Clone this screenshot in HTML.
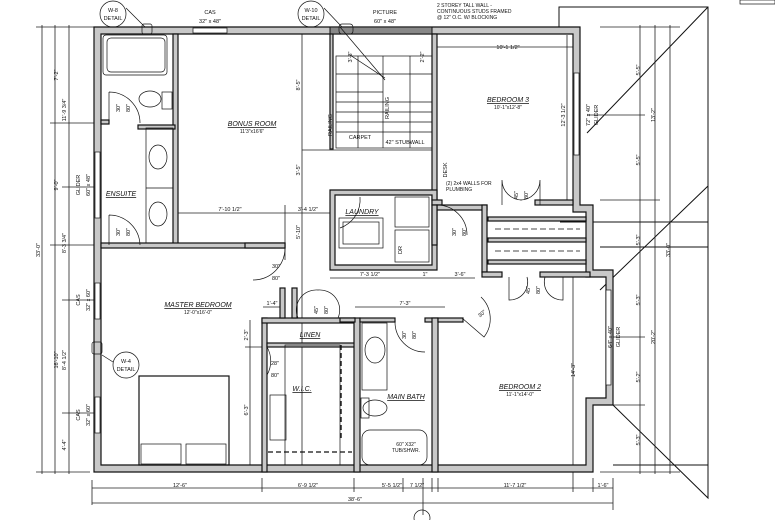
<!DOCTYPE html>
<html><head><meta charset="utf-8"><style>
html,body{margin:0;padding:0;background:#fff;width:775px;height:520px;overflow:hidden}
svg{display:block}
text{font-family:"Liberation Sans",sans-serif;fill:#111}
.w{fill:#c8c8c8;stroke:#111;stroke-width:1.2}
.l{stroke:#111;stroke-width:1;fill:none}
.t{stroke:#111;stroke-width:0.7;fill:none}
.d{stroke:#222;stroke-width:0.8;fill:none}
.lab{font-size:7px;font-style:italic;text-decoration:underline}
.s{font-size:5px}
.dim{font-size:5.5px}
</style></head><body>
<svg width="775" height="520" viewBox="0 0 775 520" xmlns="http://www.w3.org/2000/svg">
<!-- roof outline lines right -->
<path class="l" d="M559 27 V7 H708 V247 M708 7 L587 133 M708 186 L600 290 M560 222 H708 M600 247 H708 M708 247 V498 L613 405 M613 465 H708" />
<rect x="740" y="0" width="35" height="4" class="t"/>
<!-- left dimension lines -->
<g class="d">
<line x1="42" y1="25" x2="42" y2="474"/><line x1="55" y1="25" x2="55" y2="474"/><line x1="69" y1="25" x2="69" y2="474"/>
<line x1="36" y1="27" x2="95" y2="27"/><line x1="36" y1="472" x2="90" y2="472"/>
<line x1="50" y1="123" x2="95" y2="123"/><line x1="50" y1="245" x2="95" y2="245"/>
<line x1="62" y1="187" x2="95" y2="187"/><line x1="62" y1="300" x2="95" y2="300"/><line x1="62" y1="413" x2="95" y2="413"/>
<!-- right dims -->
<line x1="640" y1="25" x2="640" y2="474"/><line x1="655" y1="25" x2="655" y2="474"/><line x1="670" y1="25" x2="670" y2="474"/>
<line x1="600" y1="27" x2="680" y2="27"/><line x1="600" y1="200" x2="660" y2="200"/><line x1="600" y1="472" x2="680" y2="472"/>
<line x1="587" y1="115" x2="645" y2="115"/><line x1="613" y1="337" x2="645" y2="337"/><line x1="613" y1="405" x2="645" y2="405"/>
<!-- bottom dims -->
<line x1="92" y1="480" x2="92" y2="505"/><line x1="92" y1="488" x2="613" y2="488"/><line x1="92" y1="503" x2="613" y2="503"/>
<line x1="262" y1="478" x2="262" y2="492"/><line x1="354" y1="478" x2="354" y2="492"/><line x1="403" y1="478" x2="403" y2="492"/>
<line x1="432" y1="478" x2="432" y2="492"/><line x1="438" y1="478" x2="438" y2="492"/><line x1="573" y1="465" x2="573" y2="492"/>
<line x1="593" y1="478" x2="593" y2="492"/><line x1="613" y1="478" x2="613" y2="510"/>
<line x1="423" y1="478" x2="423" y2="515"/>
<!-- interior dims -->
<line x1="178" y1="213" x2="285" y2="213"/><line x1="285" y1="213" x2="332" y2="213"/><line x1="285" y1="205" x2="285" y2="260"/>
<line x1="302" y1="27" x2="302" y2="472"/>
<line x1="147" y1="49" x2="573" y2="49" style="display:none"/>
<line x1="437" y1="47" x2="573" y2="47"/>
<line x1="567" y1="35" x2="567" y2="205"/>
<line x1="330" y1="278" x2="432" y2="278"/><line x1="432" y1="278" x2="475" y2="278"/>
<line x1="355" y1="307" x2="445" y2="307"/>
<line x1="573" y1="275" x2="573" y2="465"/>
<line x1="250" y1="320" x2="250" y2="472"/><line x1="245" y1="347" x2="262" y2="347"/>
<line x1="263" y1="307" x2="282" y2="307"/>
<line x1="302" y1="150" x2="432" y2="150"/>
</g>
<!-- exterior walls -->
<path class="w" fill-rule="evenodd" d="M94 27 H580 V205 H593 V270 H613 V405 H593 V472 H94 Z M101 34 H573 V212 H586 V277 H606 V398 H586 V465 H101 Z"/>
<!-- hatched top wall picture window -->
<rect x="330" y="27" width="102" height="7" fill="#888" stroke="#111" stroke-width="1"/>
<!-- interior walls -->
<rect class="w" x="173" y="34" width="5" height="213"/>
<rect class="w" x="101" y="243" width="184" height="5"/>
<rect class="w" x="101" y="120" width="8" height="4"/>
<rect class="w" x="138" y="125" width="37" height="4"/>
<rect class="w" x="432" y="34" width="5" height="166"/>
<rect class="w" x="330" y="34" width="3" height="115"/>
<path class="w" fill-rule="evenodd" d="M330 190 H437 V270 H330 Z M335 195 H432 V265 H335 Z"/>
<rect class="w" x="432" y="200" width="10" height="5"/>
<rect class="w" x="437" y="205" width="50" height="5"/>
<rect class="w" x="482" y="205" width="5" height="67"/>
<rect class="w" x="482" y="272" width="20" height="5"/>
<rect class="w" x="540" y="272" width="50" height="5"/>
<rect class="w" x="488" y="217" width="98" height="4"/>
<rect class="w" x="488" y="238" width="98" height="4"/>
<rect class="w" x="488" y="260" width="98" height="4"/>
<rect class="w" x="535" y="200" width="38" height="5"/>
<rect class="w" x="432" y="205" width="5" height="40"/>
<rect class="w" x="262" y="318" width="5" height="154"/>
<rect class="w" x="262" y="318" width="93" height="5"/>
<rect class="w" x="267" y="343" width="88" height="4"/>
<rect class="w" x="354" y="318" width="6" height="154"/>
<rect class="w" x="360" y="318" width="35" height="4"/>
<rect class="w" x="425" y="318" width="12" height="4"/>
<rect class="w" x="432" y="318" width="6" height="154"/>
<rect class="w" x="438" y="318" width="25" height="4"/>
<rect class="w" x="280" y="288" width="5" height="30"/>
<rect class="w" x="292" y="288" width="5" height="30"/>
<rect class="w" x="245" y="243" width="40" height="5"/>
<rect class="w" x="340" y="318" width="15" height="4"/>
<!-- windows -->
<g class="t" fill="#fff">
<rect x="193" y="28" width="34" height="5" fill="#fff"/><rect x="95" y="152" width="5" height="66" fill="#fff"/>
<rect x="95" y="283" width="5" height="36" fill="#fff"/><rect x="95" y="397" width="5" height="36" fill="#fff"/>
<rect x="574" y="73" width="5" height="82" fill="#fff"/><rect x="606" y="290" width="5" height="95" fill="#fff"/>
</g>
<!-- fixtures -->
<g class="t">
<rect x="103" y="35" width="64" height="40" rx="3"/><rect x="107" y="38" width="58" height="34" rx="4"/>
<ellipse cx="150" cy="99" rx="11" ry="8"/><rect x="162" y="92" width="10" height="17"/>
<rect x="146" y="128" width="27" height="115"/><ellipse cx="158" cy="157" rx="9" ry="12"/><ellipse cx="158" cy="214" rx="9" ry="12"/>
<line x1="146" y1="188" x2="173" y2="188"/>
<rect x="139" y="376" width="90" height="89" stroke-width="1.2"/><rect x="141" y="444" width="40" height="20"/><rect x="186" y="444" width="40" height="20"/>
<rect x="362" y="323" width="25" height="67"/><ellipse cx="375" cy="350" rx="10" ry="13"/>
<ellipse cx="375" cy="408" rx="12" ry="8"/><rect x="361" y="398" width="8" height="20"/>
<rect x="362" y="430" width="65" height="35" rx="8"/>
<rect x="339" y="218" width="44" height="30"/><rect x="343" y="222" width="36" height="22"/>
<rect x="395" y="197" width="34" height="30"/><rect x="395" y="230" width="34" height="32"/>
<rect x="285" y="345" width="55" height="120"/><rect x="270" y="395" width="16" height="45"/>
<!-- stairs -->
<rect x="336" y="56" width="96" height="92"/>
<line x1="336" y1="74" x2="432" y2="74"/><line x1="358" y1="56" x2="358" y2="148"/><line x1="383" y1="56" x2="383" y2="148"/><line x1="410" y1="56" x2="410" y2="148"/>
<line x1="336" y1="92" x2="383" y2="92"/><line x1="336" y1="102" x2="383" y2="102"/><line x1="336" y1="112" x2="383" y2="112"/><line x1="336" y1="122" x2="383" y2="122"/><line x1="336" y1="132" x2="383" y2="132"/>
<line x1="383" y1="102" x2="432" y2="102"/><line x1="383" y1="112" x2="432" y2="112"/><line x1="383" y1="122" x2="432" y2="122"/><line x1="383" y1="132" x2="432" y2="132"/>
<line x1="340" y1="27" x2="385" y2="80"/><line x1="350" y1="55" x2="385" y2="78"/>
<!-- closets dashed -->
<line x1="495" y1="229" x2="580" y2="229" stroke-dasharray="6,3"/><line x1="495" y1="251" x2="580" y2="251" stroke-dasharray="6,3"/>
<line x1="341" y1="345" x2="341" y2="440" stroke-dasharray="5,3" stroke-width="1.4"/><line x1="268" y1="452" x2="352" y2="452" stroke-dasharray="5,3" stroke-width="1.2"/>
<!-- door swings -->
<path d="M109 92 V123 M109 92 A31 31 0 0 1 140 123"/>
<path d="M109 215 V245 M109 215 A31 31 0 0 1 140 245"/>
<path d="M285 248 A32 32 0 0 1 253 280"/>
<path d="M267 347 A28 28 0 0 1 267 375"/>
<path d="M298 318 A20 20 0 0 1 318 290 M338 318 A20 20 0 0 0 318 290"/>
<path d="M395 322 A30 30 0 0 0 425 352"/>
<path d="M437 205 A30 30 0 0 1 467 235"/>
<path d="M502 205 V180 A20 20 0 0 0 522 200 M540 205 V180 A20 20 0 0 1 520 200"/>
<path d="M509 277 V300 A18 18 0 0 0 527 277 M563 277 V300 A18 18 0 0 1 545 277"/>
<path d="M462 318 L484 337 A30 30 0 0 0 481 297"/>
<path d="M360 197 A30 30 0 0 1 340 228"/>
</g>
<!-- circles -->
<g class="t"><circle cx="113" cy="14" r="13"/><circle cx="311" cy="14" r="13"/><circle cx="126" cy="365" r="13"/><circle cx="422" cy="518" r="8"/>
<line x1="126" y1="8" x2="145" y2="27"/><line x1="324" y1="8" x2="342" y2="27"/><line x1="102" y1="355" x2="113" y2="362"/>
<rect x="142" y="24" width="10" height="10" rx="2"/><rect x="339" y="24" width="14" height="10" rx="3"/><rect x="92" y="342" width="10" height="12" rx="2"/>
</g>
<!-- labels -->
<g class="dim" text-anchor="middle">
<text x="113" y="12">W-8</text><text x="113" y="20">DETAIL</text>
<text x="311" y="12">W-10</text><text x="311" y="20">DETAIL</text>
<text x="126" y="363">W-4</text><text x="126" y="371">DETAIL</text>
<text x="210" y="14">CAS</text><text x="210" y="23">32" x 48"</text>
<text x="385" y="14">PICTURE</text><text x="385" y="23">60" x 48"</text>
<text x="508" y="49">10'-1 1/2"</text>
<text x="230" y="211">7'-10 1/2"</text><text x="308" y="211">3'-4 1/2"</text>
<text x="370" y="276">7'-3 1/2"</text><text x="425" y="276">1"</text><text x="460" y="276">3'-6"</text>
<text x="405" y="305">7'-3"</text><text x="272" y="305">1'-4"</text>
<text x="180" y="487">12'-6"</text><text x="308" y="487">6'-9 1/2"</text><text x="392" y="487">5'-5 1/2"</text><text x="417" y="487">7 1/2"</text><text x="515" y="487">11'-7 1/2"</text><text x="603" y="487">1'-6"</text>
<text x="355" y="501">38'-6"</text>
<text x="276" y="268">30"</text><text x="276" y="280">80"</text>
<text x="275" y="365">28"</text><text x="275" y="377">80"</text>
<text x="360" y="139">CARPET</text><text x="405" y="144">42" STUBWALL</text>
</g>
<g text-anchor="start" font-size="5">
<text x="437" y="7">2 STOREY TALL WALL -</text><text x="437" y="13">CONTINUOUS STUDS FRAMED</text><text x="437" y="19">@ 12" O.C. W/ BLOCKING</text>
<text x="446" y="185">(2) 2x4 WALLS FOR</text><text x="446" y="191">PLUMBING</text>
</g>
<g class="lab" text-anchor="middle">
<text x="252" y="126">BONUS ROOM</text>
<text x="508" y="102">BEDROOM 3</text>
<text x="121" y="196">ENSUITE</text>
<text x="362" y="214">LAUNDRY</text>
<text x="198" y="307">MASTER BEDROOM</text>
<text x="310" y="337">LINEN</text>
<text x="302" y="391">W.I.C.</text>
<text x="406" y="399">MAIN BATH</text>
<text x="520" y="389">BEDROOM 2</text>
</g>
<g class="s" text-anchor="middle">
<text x="252" y="133">11'3"x16'6"</text><text x="508" y="109">10'-1"x12'-8"</text>
<text x="198" y="314">12'-0"x16'-0"</text><text x="520" y="396">11'-1"x14'-0"</text>
<text x="406" y="446">60" X32"</text><text x="406" y="452">TUB/SHWR.</text>
</g>
<!-- rotated dims -->
<g class="dim" text-anchor="middle">
<text transform="translate(58,75) rotate(-90)">7'-2"</text>
<text transform="translate(66,110) rotate(-90)">11'-9 3/4"</text>
<text transform="translate(58,185) rotate(-90)">9'-0"</text>
<text transform="translate(66,243) rotate(-90)">8'-3 3/4"</text>
<text transform="translate(40,250) rotate(-90)">33'-0"</text>
<text transform="translate(58,360) rotate(-90)">16'-10"</text>
<text transform="translate(66,360) rotate(-90)">8'-4 1/2"</text>
<text transform="translate(66,445) rotate(-90)">4'-4"</text>
<text transform="translate(80,185) rotate(-90)">GLIDER</text><text transform="translate(90,185) rotate(-90)">60" x 48"</text>
<text transform="translate(80,300) rotate(-90)">CAS</text><text transform="translate(90,300) rotate(-90)">32" x 60"</text>
<text transform="translate(80,415) rotate(-90)">CAS</text><text transform="translate(90,415) rotate(-90)">32" x 60"</text>
<text transform="translate(598,115) rotate(-90)">GLIDER</text><text transform="translate(590,115) rotate(-90)">72" x 40"</text>
<text transform="translate(565,115) rotate(-90)">12'-3 1/2"</text>
<text transform="translate(620,337) rotate(-90)">GLIDER</text><text transform="translate(612,337) rotate(-90)">64" x 40"</text>
<text transform="translate(575,370) rotate(-90)">14'-3"</text>
<text transform="translate(640,70) rotate(-90)">5'-5"</text><text transform="translate(655,115) rotate(-90)">13'-2"</text>
<text transform="translate(640,160) rotate(-90)">5'-5"</text><text transform="translate(640,240) rotate(-90)">5'-3"</text>
<text transform="translate(670,250) rotate(-90)">33'-0"</text><text transform="translate(655,337) rotate(-90)">20'-2"</text>
<text transform="translate(640,300) rotate(-90)">5'-3"</text><text transform="translate(640,377) rotate(-90)">5'-2"</text><text transform="translate(640,440) rotate(-90)">5'-3"</text>
<text transform="translate(300,85) rotate(-90)">8'-5"</text><text transform="translate(300,170) rotate(-90)">3'-5"</text><text transform="translate(300,232) rotate(-90)">5'-10"</text>
<text transform="translate(248,335) rotate(-90)">2'-3"</text><text transform="translate(248,410) rotate(-90)">6'-3"</text>
<text transform="translate(120,108) rotate(-90)">30"</text><text transform="translate(130,108) rotate(-90)">80"</text>
<text transform="translate(120,232) rotate(-90)">30"</text><text transform="translate(130,232) rotate(-90)">80"</text>
<text transform="translate(456,232) rotate(-90)">30"</text><text transform="translate(466,232) rotate(-90)">80"</text>
<text transform="translate(406,335) rotate(-90)">30"</text><text transform="translate(416,335) rotate(-90)">80"</text>
<text transform="translate(518,195) rotate(-90)">45"</text><text transform="translate(528,195) rotate(-90)">80"</text>
<text transform="translate(530,290) rotate(-90)">45"</text><text transform="translate(540,290) rotate(-90)">80"</text>
<text transform="translate(318,310) rotate(-90)">45"</text><text transform="translate(328,310) rotate(-90)">80"</text>
<text transform="translate(352,57) rotate(-90)">3'-3"</text><text transform="translate(424,57) rotate(-90)">2'-2"</text>
<text transform="translate(332,125) rotate(-90)">RAILING</text><text transform="translate(389,108) rotate(-90)">RAILING</text>
<text transform="translate(447,170) rotate(-90)">DESK</text><text transform="translate(402,250) rotate(-90)">DR</text>
<text transform="translate(483,315) rotate(-40)">30"</text>
</g>
</svg>
</body></html>
